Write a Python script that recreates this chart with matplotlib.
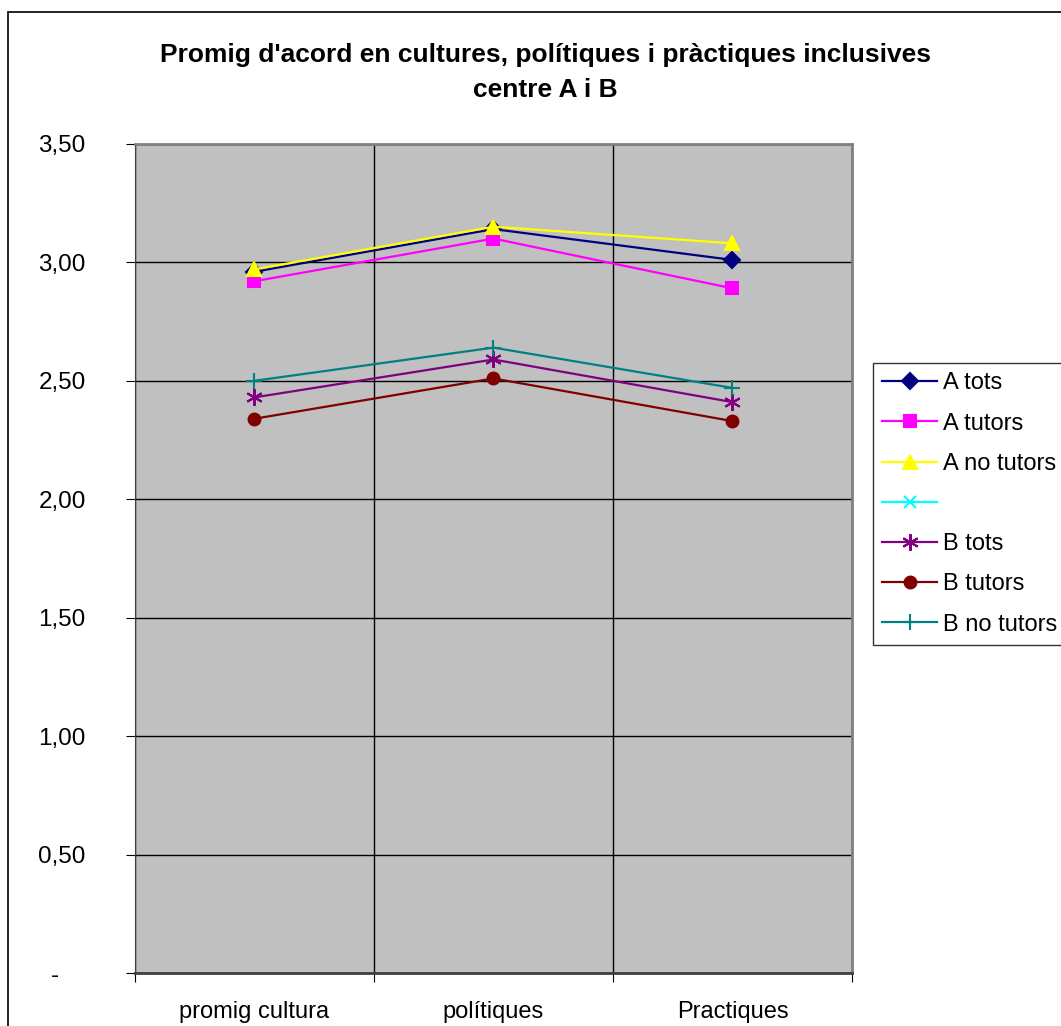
import numpy as np
import matplotlib.pyplot as plt
from matplotlib.patches import Rectangle

plt.rcParams['font.family'] = ['Liberation Sans', 'DejaVu Sans']

# Data
categories = ["promig cultura", "polítiques", "Practiques"]
a_tots = [2.96, 3.14, 3.01]
a_tutors = [2.92, 3.10, 2.89]
a_no_tutors = [2.97, 3.15, 3.08]
empty_series = [np.nan, np.nan, np.nan]
b_tots = [2.43, 2.59, 2.41]
b_tutors = [2.34, 2.51, 2.33]
b_no_tutors = [2.50, 2.64, 2.47]
y_ticks = [0, 0.5, 1.0, 1.5, 2.0, 2.5, 3.0, 3.5]
y_tick_labels = ["-    ", "0,50", "1,00", "1,50", "2,00", "2,50", "3,00", "3,50"]

fig = plt.figure(figsize=(10.61, 10.26), dpi=100)
ax = fig.add_axes([0.1272, 0.0512, 0.6758, 0.8087])
ax.set_facecolor("#c0c0c0")

# outer chart border
fig.patches.append(Rectangle((8 / 1061, -0.1), 1.2, 1 - 12 / 1026 + 0.1,
                             transform=fig.transFigure, fill=False,
                             edgecolor="black", linewidth=1.2))

x = np.arange(len(categories))
series = [
    ("A tots", a_tots, "#000080", "D", 8),
    ("A tutors", a_tutors, "#ff00ff", "s", 8.5),
    ("A no tutors", a_no_tutors, "#ffff00", "^", 10),
    (" ", empty_series, "#00ffff", "x", 9),
    ("B tots", b_tots, "#800080", (6, 2, 0), 12),
    ("B tutors", b_tutors, "#800000", "o", 8.5),
    ("B no tutors", b_no_tutors, "#008080", "+", 12),
]
for label, vals, color, marker, ms in series:
    ax.plot(x, vals, color=color, marker=marker, markersize=ms,
            markeredgecolor=color, markerfacecolor=color,
            markeredgewidth=1.5, linewidth=1.6, label=label)

ax.set_xlim(-0.5, 2.5)
ax.set_ylim(0, 3.5)

ax.set_yticks(y_ticks)
ax.set_yticklabels(y_tick_labels, fontsize=17.5)
ax.yaxis.grid(True, color="black", linewidth=1)

ax.set_xticks([-0.5, 0.5, 1.5, 2.5])
ax.set_xticklabels([])
ax.set_xticks(x, minor=True)
ax.set_xticklabels(categories, minor=True, fontsize=17)
ax.xaxis.grid(True, which="major", color="black", linewidth=1)
ax.tick_params(axis="x", which="major", length=6.5, direction="out")
ax.tick_params(axis="x", which="minor", length=0, pad=20)
ax.tick_params(axis="y", length=6.5, direction="out", pad=29)
ax.set_axisbelow(True)

for side in ["top", "right"]:
    ax.spines[side].set_color("#808080")
    ax.spines[side].set_linewidth(2)
ax.spines["left"].set_color("#404040")
ax.spines["bottom"].set_color("#404040")
ax.spines["bottom"].set_linewidth(2)

fig.text(0.514, 0.946, "Promig d'acord en cultures, polítiques i pràctiques inclusives",
         ha="center", va="center", fontsize=19, fontweight="bold")
fig.text(0.514, 0.912, "centre A i B", ha="center", va="center",
         fontsize=19, fontweight="bold")

leg = fig.legend(loc="upper left", bbox_to_anchor=(873 / 1061, 1 - 363 / 1026),
                 fontsize=17, frameon=True, fancybox=False, edgecolor="black",
                 handlelength=2.33, handletextpad=0.25, labelspacing=0.77,
                 borderpad=0.4, borderaxespad=0)
leg.get_frame().set_linewidth(1)

fig.savefig("out.png", dpi=100)
